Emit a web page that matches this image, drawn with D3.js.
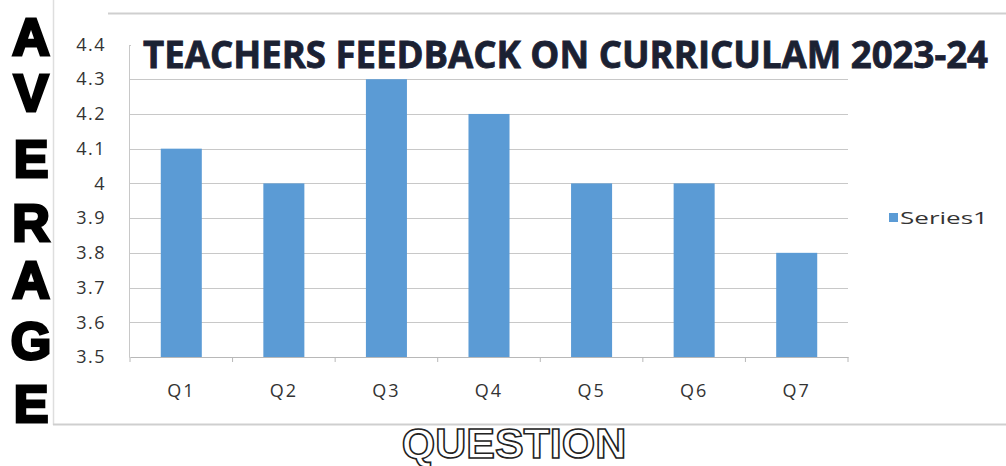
<!DOCTYPE html>
<meta charset="utf-8">
<style>
    body { margin: 0; background: #fff; }
    .grid line { stroke: #c8c8c8; stroke-width: 1px; }
    .tick text { font-family: "Open Sans", Calibri, sans-serif; fill: #333; }
</style>
<svg width="1006" height="466"></svg>
<script src="https://cdnjs.cloudflare.com/ajax/libs/d3/7.8.5/d3.min.js"></script>
<script>
    // chart data
    var questions = ["Q1", "Q2", "Q3", "Q4", "Q5", "Q6", "Q7"];
    var averages = [4.1, 4.0, 4.3, 4.2, 4.0, 4.0, 3.8];
    var yTicks = [3.5, 3.6, 3.7, 3.8, 3.9, 4.0, 4.1, 4.2, 4.3, 4.4];
    var seriesName = "Series1";
    var titleText = "TEACHERS FEEDBACK ON CURRICULAM 2023-24";

    var svg = d3.select("svg");
    var plotLeft = 130, plotRight = 848, plotTop = 44.5, plotBottom = 357;

    var x = d3.scaleBand().domain(questions).range([plotLeft, plotRight]).paddingInner(0.6).paddingOuter(0.3);
    var y = d3.scaleLinear().domain([3.5, 4.4]).range([plotBottom, plotTop]);

    // outer chart frame
    svg.append("line").attr("x1", 108).attr("x2", 1006).attr("y1", 13.5).attr("y2", 13.5)
            .style("stroke", "#cfcfcf").style("stroke-width", 2);
    svg.append("line").attr("x1", 53.5).attr("x2", 53.5).attr("y1", 0).attr("y2", 425)
            .style("stroke", "#dedede").style("stroke-width", 1.5);
    svg.append("line").attr("x1", 53).attr("x2", 1006).attr("y1", 424.5).attr("y2", 424.5)
            .style("stroke", "#cfcfcf").style("stroke-width", 2);

    // gridlines
    svg.append("g").attr("class", "grid")
            .selectAll("line")
            .data(yTicks.filter(function (t) { return t > 3.5; }))
            .enter().append("line")
            .attr("x1", plotLeft).attr("x2", plotRight)
            .attr("y1", function (d) { return Math.round(y(d)) + 0.5; })
            .attr("y2", function (d) { return Math.round(y(d)) + 0.5; });

    // bars
    svg.append("g")
            .selectAll("rect")
            .data(averages)
            .enter().append("rect")
            .attr("x", function (d, i) { return x(questions[i]); })
            .attr("width", x.bandwidth())
            .attr("y", function (d) { return y(d); })
            .attr("height", function (d) { return y(3.5) - y(d); })
            .attr("fill", "#5b9bd5");

    // white box behind title
    svg.append("rect").attr("x", 131).attr("y", 30).attr("width", 870).attr("height", 40).attr("fill", "#fff");

    // y axis
    var yAxis = svg.append("g")
            .attr("transform", "translate(" + (plotLeft - 1) + ",0)")
            .call(d3.axisLeft(y).tickValues(yTicks).tickSize(0).tickPadding(23)
                    .tickFormat(function (d) { return d3.format("")(+d.toFixed(1)); }));
    yAxis.select(".domain").style("stroke", "#c8c8c8");
    yAxis.selectAll("text").style("font-size", "18px").style("letter-spacing", "1.5px");

    // x axis
    var xAxis = svg.append("g")
            .attr("transform", "translate(0," + plotBottom + ")")
            .call(d3.axisBottom(x).tickSize(0).tickPadding(27));
    xAxis.select(".domain").style("stroke", "#b8b8b8");
    xAxis.selectAll("text").style("font-size", "18px").style("letter-spacing", "2px");
    // tick marks between categories
    svg.append("g").selectAll("line")
            .data(d3.range(questions.length + 1))
            .enter().append("line")
            .attr("x1", function (i) { return plotLeft + i * (plotRight - plotLeft) / questions.length; })
            .attr("x2", function (i) { return plotLeft + i * (plotRight - plotLeft) / questions.length; })
            .attr("y1", plotBottom).attr("y2", plotBottom + 5)
            .style("stroke", "#b8b8b8");

    // title
    svg.append("text")
            .attr("x", 143).attr("y", 68)
            .attr("textLength", 845).attr("lengthAdjust", "spacingAndGlyphs")
            .style("font-family", "'Open Sans', 'Liberation Sans', sans-serif")
            .style("font-weight", "bold").style("font-size", "37px")
            .style("fill", "#1b2133").style("stroke", "#1b2133").style("stroke-width", 0.8)
            .text(titleText);

    // legend
    svg.append("rect").attr("x", 889).attr("y", 213).attr("width", 9).attr("height", 9).attr("fill", "#5b9bd5");
    svg.append("text").attr("x", 900).attr("y", 224)
            .attr("textLength", 88).attr("lengthAdjust", "spacingAndGlyphs")
            .style("font-family", "'Open Sans', sans-serif").style("font-size", "17px").style("fill", "#333")
            .text(seriesName);

    // vertical axis title, stacked letters
    var letterY = [36, 92, 158, 222, 279, 340, 403];
    svg.append("g").selectAll("text")
            .data("AVERAGE".split(""))
            .enter().append("text")
            .attr("x", 31).attr("y", function (d, i) { return letterY[i] + 19; })
            .attr("text-anchor", "middle")
            .style("font-family", "'Liberation Sans', Arial, sans-serif")
            .style("font-weight", "bold").style("font-size", "52px")
            .style("fill", "#000").style("stroke", "#000").style("stroke-width", 3)
            .text(function (d) { return d; });

    // horizontal axis title, outlined
    svg.append("text")
            .attr("x", 514).attr("y", 458)
            .attr("text-anchor", "middle")
            .style("font-family", "'Liberation Sans', Arial, sans-serif")
            .style("font-weight", "bold").style("font-size", "43px")
            .style("fill", "#fff").style("stroke", "#222").style("stroke-width", 1.6)
            .text("QUESTION");
</script>
